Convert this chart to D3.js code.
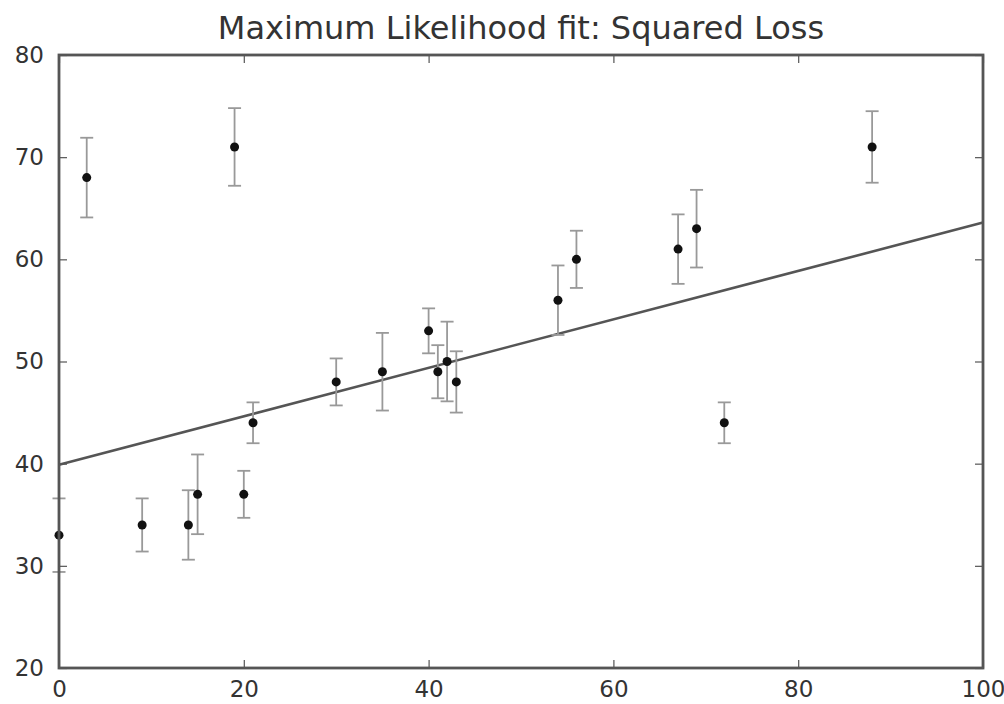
<!DOCTYPE html>
<html>
<head>
<meta charset="utf-8">
<script src="https://cdn.jsdelivr.net/npm/d3@7"></script>
<style>
  body { margin: 0; background: #fff; }
  text { font-family: "DejaVu Sans", sans-serif; fill: #333; }
</style>
</head>
<body>
<div id="chart"></div>
<script>
/* DATA */
const xs   = [0, 3, 9, 14, 15, 19, 20, 21, 30, 35, 40, 41, 42, 43, 54, 56, 67, 69, 72, 88];
const ys   = [33, 68, 34, 34, 37, 71, 37, 44, 48, 49, 53, 49, 50, 48, 56, 60, 61, 63, 44, 71];
const errs = [3.6, 3.9, 2.6, 3.4, 3.9, 3.8, 2.3, 2.0, 2.3, 3.8, 2.2, 2.6, 3.9, 3.0, 3.4, 2.8, 3.4, 3.8, 2.0, 3.5];
const fitX = [0, 100];
const fitY = [39.9, 63.6];
const xTicks = [0, 20, 40, 60, 80, 100];
const yTicks = [20, 30, 40, 50, 60, 70, 80];
const title = "Maximum Likelihood fit: Squared Loss";

const width = 1004, height = 704,
  margin = { top: 55, right: 21, bottom: 36, left: 59 };

const svg = d3.select("#chart").append("svg")
  .attr("width", width)
  .attr("height", height);

const x = d3.scaleLinear().domain([0, 100]).range([margin.left, width - margin.right]);
const y = d3.scaleLinear().domain([20, 80]).range([height - margin.bottom, margin.top]);

// axes, ticks pointing inward
const tickLen = 8;
const axisStyle = g => {
  g.select(".domain").remove();
  g.selectAll(".tick line").attr("stroke", "#555").attr("stroke-width", 1.2);
  g.selectAll(".tick text").style("font-size", "23px").attr("fill", "#333");
};

svg.append("g")
  .attr("transform", `translate(0,${y(20)})`)
  .call(d3.axisBottom(x).tickValues(xTicks).tickSize(-tickLen).tickPadding(13))
  .call(axisStyle);
svg.append("g")
  .attr("transform", `translate(0,${y(80)})`)
  .call(d3.axisTop(x).tickValues(xTicks).tickSize(-tickLen).tickFormat(""))
  .call(axisStyle);
svg.append("g")
  .attr("transform", `translate(${x(0)},0)`)
  .call(d3.axisLeft(y).tickValues(yTicks).tickSize(-tickLen).tickPadding(15))
  .call(axisStyle);
svg.append("g")
  .attr("transform", `translate(${x(100)},0)`)
  .call(d3.axisRight(y).tickValues(yTicks).tickSize(-tickLen).tickFormat(""))
  .call(axisStyle);

// fit line
svg.append("path")
  .datum(d3.zip(fitX, fitY))
  .attr("fill", "none")
  .attr("stroke", "#555")
  .attr("stroke-width", 2.6)
  .attr("d", d3.line().x(d => x(d[0])).y(d => y(d[1])));

// error bars
const pts = d3.range(xs.length).map(i => ({ x: xs[i], y: ys[i], e: errs[i] }));
const eb = svg.append("g").attr("stroke", "#999").attr("stroke-width", 1.8);
eb.selectAll("line.bar").data(pts).join("line")
  .attr("class", "bar")
  .attr("x1", d => x(d.x)).attr("x2", d => x(d.x))
  .attr("y1", d => y(d.y - d.e)).attr("y2", d => y(d.y + d.e));
const capW = 6.5;
eb.selectAll("line.capt").data(pts).join("line")
  .attr("class", "capt")
  .attr("x1", d => x(d.x) - capW).attr("x2", d => x(d.x) + capW)
  .attr("y1", d => y(d.y + d.e)).attr("y2", d => y(d.y + d.e));
eb.selectAll("line.capb").data(pts).join("line")
  .attr("class", "capb")
  .attr("x1", d => x(d.x) - capW).attr("x2", d => x(d.x) + capW)
  .attr("y1", d => y(d.y - d.e)).attr("y2", d => y(d.y - d.e));

// points
svg.append("g").selectAll("circle").data(pts).join("circle")
  .attr("cx", d => x(d.x))
  .attr("cy", d => y(d.y))
  .attr("r", 4.5)
  .attr("fill", "#111");

// frame
svg.append("rect")
  .attr("x", x(0)).attr("y", y(80))
  .attr("width", x(100) - x(0)).attr("height", y(20) - y(80))
  .attr("fill", "none")
  .attr("stroke", "#555")
  .attr("stroke-width", 2.8);

// title
svg.append("text")
  .attr("x", (x(0) + x(100)) / 2)
  .attr("y", 39)
  .attr("text-anchor", "middle")
  .style("font-size", "32px")
  .text(title);
</script>
</body>
</html>
